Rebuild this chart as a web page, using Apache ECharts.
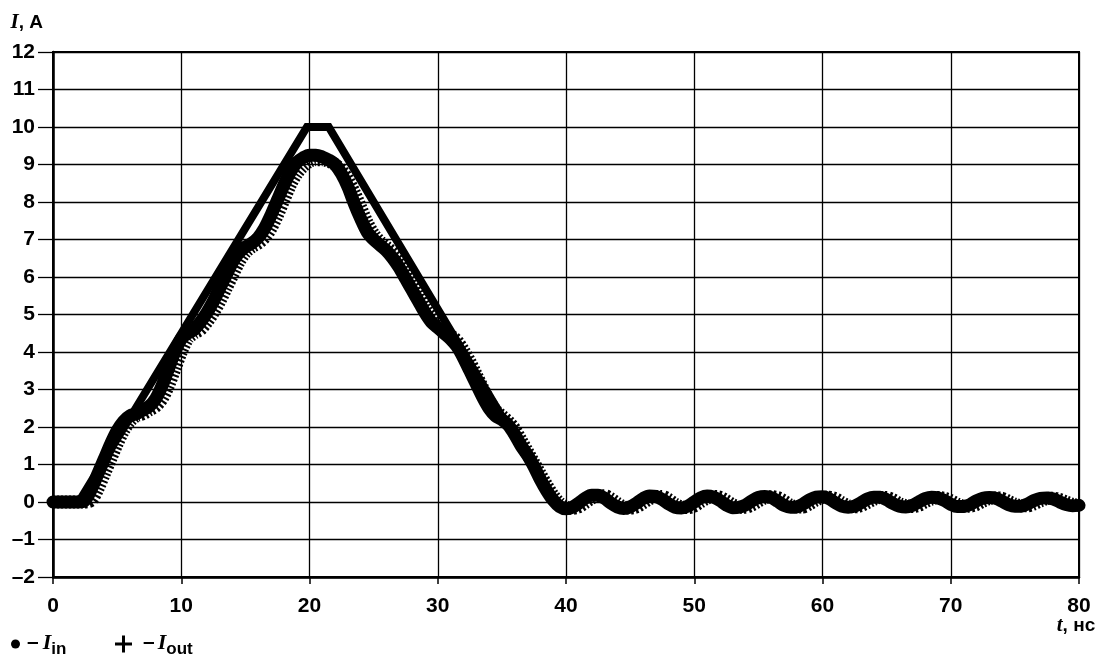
<!DOCTYPE html>
<html><head><meta charset="utf-8">
<script src="https://cdn.jsdelivr.net/npm/echarts@6/dist/echarts.min.js"></script>
<style>html,body{margin:0;padding:0;background:#fff}#c{width:1098px;height:656px}</style>
</head><body><div id="c"></div>
<script>
// time grid, ns (rows of 5 ns)
const time = [
  0,0.5,1,1.5,2,2.5,3,3.5,4,4.5,
  5,5.5,6,6.5,7,7.5,8,8.5,9,9.5,
  10,10.5,11,11.5,12,12.5,13,13.5,14,14.5,
  15,15.5,16,16.5,17,17.5,18,18.5,19,19.5,
  20,20.5,21,21.5,22,22.5,23,23.5,24,24.5,
  25,25.5,26,26.5,27,27.5,28,28.5,29,29.5,
  30,30.5,31,31.5,32,32.5,33,33.5,34,34.5,
  35,35.5,36,36.5,37,37.5,38,38.5,39,39.5,
  40,40.5,41,41.5,42,42.5,43,43.5,44,44.5,
  45,45.5,46,46.5,47,47.5,48,48.5,49,49.5,
  50,50.5,51,51.5,52,52.5,53,53.5,54,54.5,
  55,55.5,56,56.5,57,57.5,58,58.5,59,59.5,
  60,60.5,61,61.5,62,62.5,63,63.5,64,64.5,
  65,65.5,66,66.5,67,67.5,68,68.5,69,69.5,
  70,70.5,71,71.5,72,72.5,73,73.5,74,74.5,
  75,75.5,76,76.5,77,77.5,78,78.5,79,79.5,
  80
];
// input current I_in, A
const iIn = [
  0,0,0,0,0,0.05,0.35,0.75,1.15,1.55,
  1.9,2.15,2.3,2.35,2.45,2.55,2.75,3.1,3.55,4.0,
  4.35,4.5,4.6,4.8,5.05,5.35,5.7,6.05,6.4,6.65,
  6.8,6.9,7.05,7.3,7.65,8.05,8.45,8.8,9.05,9.18,
  9.25,9.25,9.2,9.12,9.0,8.75,8.4,7.95,7.55,7.2,
  7.0,6.85,6.7,6.5,6.25,5.95,5.65,5.35,5.05,4.8,
  4.65,4.5,4.35,4.15,3.85,3.5,3.15,2.8,2.5,2.3,
  2.2,2.05,1.8,1.5,1.25,0.95,0.6,0.3,0.05,-0.12,
  -0.18,-0.14,-0.03,0.1,0.18,0.18,0.1,-0.03,-0.13,-0.17,
  -0.13,-0.03,0.09,0.16,0.15,0.07,-0.05,-0.14,-0.16,-0.11,
  0.0,0.11,0.16,0.13,0.04,-0.08,-0.15,-0.14,-0.08,0.03,
  0.12,0.15,0.12,0.02,-0.09,-0.14,-0.13,-0.05,0.06,0.13,
  0.14,0.09,-0.02,-0.11,-0.14,-0.11,-0.02,0.08,0.13,0.13,
  0.06,-0.04,-0.11,-0.13,-0.09,0.0,0.09,0.13,0.11,0.04,
  -0.06,-0.12,-0.12,-0.07,0.03,0.1,0.12,0.1,0.02,-0.07,
  -0.11,-0.11,-0.05,0.04,0.1,0.11,0.08,0.0,-0.07,-0.1,
  -0.09
];
// output current I_out, A
const iOut = [
  0,0,0,0,0,0,0.05,0.35,0.75,1.15,
  1.55,1.9,2.15,2.3,2.35,2.45,2.55,2.75,3.1,3.55,
  4.0,4.35,4.5,4.6,4.8,5.05,5.35,5.7,6.05,6.4,
  6.65,6.8,6.9,7.05,7.3,7.65,8.05,8.45,8.75,8.95,
  9.08,9.13,9.13,9.08,9.0,8.85,8.6,8.25,7.85,7.45,
  7.15,6.95,6.8,6.65,6.45,6.2,5.9,5.55,5.2,4.95,
  4.75,4.6,4.45,4.3,4.05,3.75,3.4,3.05,2.7,2.45,
  2.3,2.15,1.95,1.65,1.35,1.05,0.75,0.45,0.18,-0.02,
  -0.13,-0.17,-0.13,-0.02,0.1,0.17,0.17,0.09,-0.03,-0.13,
  -0.16,-0.13,-0.03,0.08,0.15,0.15,0.07,-0.05,-0.13,-0.15,
  -0.11,0.0,0.1,0.15,0.13,0.04,-0.07,-0.14,-0.14,-0.08,
  0.02,0.11,0.14,0.12,0.03,-0.08,-0.13,-0.13,-0.05,0.05,
  0.12,0.13,0.09,-0.01,-0.1,-0.13,-0.1,-0.02,0.07,0.12,
  0.12,0.06,-0.04,-0.1,-0.12,-0.09,0.0,0.08,0.12,0.1,
  0.04,-0.05,-0.11,-0.11,-0.07,0.02,0.09,0.11,0.1,0.02,
  -0.06,-0.1,-0.1,-0.05,0.03,0.09,0.1,0.07,0.0,-0.06,
  -0.09
];
// ideal trapezoid pulse
const trapT = [0, 2, 19.8, 21.5, 39];
const trapI = [0, 0, 10, 10, 0];

const xTicks = [0,10,20,30,40,50,60,70,80];
const yTicks = [-2,-1,0,1,2,3,4,5,6,7,8,9,10,11,12];

const SANS = "'Liberation Sans', Arial, sans-serif";
const SERIF = "'Liberation Serif', 'Times New Roman', serif";

const chart = echarts.init(document.getElementById('c'), null, {renderer: 'canvas'});

const legendRich = {
  d: {fontFamily: SANS, fontSize: 21, fontWeight: 'bold', color: '#000', lineHeight: 24, verticalAlign: 'top', padding: [0, 4, 0, 2]},
  d2: {fontFamily: SANS, fontSize: 21, fontWeight: 'bold', color: '#000', lineHeight: 24, verticalAlign: 'top', padding: [0, 3, 0, 6]},
  i: {fontFamily: SERIF, fontSize: 22, fontStyle: 'italic', fontWeight: 'bold', color: '#000', lineHeight: 24, verticalAlign: 'top'},
  s: {fontFamily: SANS, fontSize: 17, fontWeight: 'bold', color: '#000', lineHeight: 24, verticalAlign: 'top', padding: [9, 0, 0, 0]}
};

const option = {
  animation: false,
  backgroundColor: '#fff',
  grid: {left: 53, right: 19, top: 52, bottom: 79, show: true, borderColor: '#000', borderWidth: 2, containLabel: false, outerBoundsMode: 'none'},
  legend: [
    {
      left: 11, top: 632, itemWidth: 9, itemHeight: 9, padding: 0,
      data: [{name: 'I_in', icon: 'circle', itemStyle: {color: '#000', borderWidth: 0}}],
      formatter: () => '{d|–}{i|I}{s|in}',
      textStyle: {rich: legendRich}
    },
    {
      left: 115, top: 632, itemWidth: 17, itemHeight: 17, padding: 0,
      data: [{name: 'I_out', icon: 'path://M7,0H10V7H17V10H10V17H7V10H0V7H7Z', itemStyle: {color: '#000', borderWidth: 0}}],
      formatter: () => '{d2|–}{i|I}{s|out}',
      textStyle: {rich: legendRich}
    }
  ],
  xAxis: {
    type: 'value', min: xTicks[0], max: xTicks[xTicks.length - 1], interval: 10,
    name: '{i|t}{n|, нс}', nameLocation: 'end', nameGap: 0, nameMoveOverlap: false,
    nameTextStyle: {align: 'center', verticalAlign: 'top', padding: [38, 6, 0, 0],
      rich: {
        i: {fontFamily: SERIF, fontSize: 21, fontStyle: 'italic', fontWeight: 'bold', color: '#000'},
        n: {fontFamily: SANS, fontSize: 19, fontWeight: 'bold', color: '#000'}
      }},
    axisLine: {show: true, onZero: false, lineStyle: {color: '#000', width: 2.5}},
    axisTick: {show: true, inside: false, length: 7, lineStyle: {color: '#000', width: 1.5}},
    axisLabel: {margin: 19, fontFamily: SANS, fontSize: 21, fontWeight: 'bold', color: '#000'},
    splitLine: {show: true, lineStyle: {color: '#000', width: 1.3}}
  },
  yAxis: {
    type: 'value', min: yTicks[0], max: yTicks[yTicks.length - 1], interval: 1,
    name: '{i|I}{n|, A}', nameLocation: 'end', nameGap: 19, nameMoveOverlap: false,
    nameTextStyle: {align: 'right', verticalAlign: 'bottom', padding: [0, 10, 0, 0],
      rich: {
        i: {fontFamily: SERIF, fontSize: 21, fontStyle: 'italic', fontWeight: 'bold', color: '#000'},
        n: {fontFamily: SANS, fontSize: 19, fontWeight: 'bold', color: '#000'}
      }},
    axisLine: {show: true, onZero: false, lineStyle: {color: '#000', width: 2.5}},
    axisTick: {show: true, inside: false, length: 15, lineStyle: {color: '#000', width: 1.3}},
    axisLabel: {margin: 18, fontFamily: SANS, fontSize: 21, fontWeight: 'bold', color: '#000',
      formatter: v => (v < 0 ? '–' + Math.abs(v) : String(v))},
    splitLine: {show: true, lineStyle: {color: '#000', width: 1.3}}
  },
  series: [
    {
      name: 'trap', type: 'line', z: 3, showSymbol: false, silent: true,
      data: trapT.map((t, k) => [t, trapI[k]]),
      lineStyle: {color: '#000', width: 8, join: 'miter'}
    },
    {
      name: 'I_out', type: 'line', z: 2, showSymbol: false, smooth: 0.3,
      data: time.map((t, k) => [t, iOut[k]]),
      lineStyle: {color: '#000', width: 13, type: [2, 2], cap: 'butt'}
    },
    {
      name: 'I_in', type: 'line', z: 4, showSymbol: false, smooth: 0.3,
      data: time.map((t, k) => [t, iIn[k]]),
      lineStyle: {color: '#000', width: 13, cap: 'round'}
    }
  ]
};
chart.setOption(option);
</script>
</body></html>
